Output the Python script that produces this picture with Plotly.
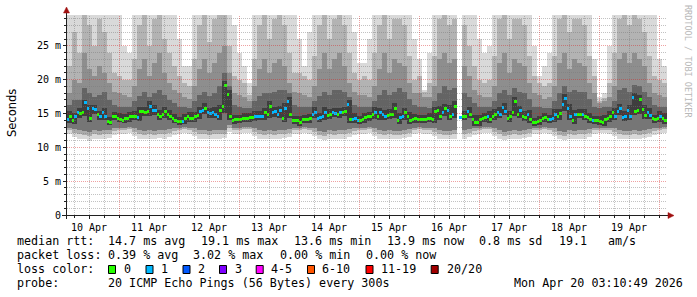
import plotly.graph_objects as go
from datetime import datetime, timedelta

# ---------------- data ----------------
first_step = datetime(2026, 4, 10, 3, 0, 0)      # start of first RRD step
view_start = datetime(2026, 4, 10, 3, 10, 49)
view_end = datetime(2026, 4, 20, 3, 10, 49)
median_step_hours = 1
smoke_step_hours = 2

# median round trip time (ms), one value per hour (None = no data)
median_ms = [
    14.1, 14.6, 13.9, 14.5, 15.1, 15.0, 15.2, 16.6, 15.8, 14.3, 15.7, 15.6, 14.8, 14.6, 15.2, 14.6, 13.8, 13.7, 14.6, 14.6, 14.3, 14.1, 14.0, 14.2,
    14.3, 14.5, 14.6, 14.6, 14.4, 15.3, 15.3, 15.2, 15.3, 16.1, 15.5, 15.4, 14.8, 14.5, 14.9, 15.3, 14.9, 14.5, 14.2, 14.0, 13.8, 13.8, 13.8, 14.2,
    14.5, 14.3, 14.2, 14.5, 14.7, 15.3, 15.5, 15.8, 15.1, 15.0, 15.2, 14.8, 14.6, 15.5, 16.0, 19.2, 17.8, 14.6, 14.0, 14.1, 14.1, 14.1, 14.2, 14.3,
    14.3, 14.4, 14.4, 14.6, 14.6, 14.6, 14.6, 15.1, 14.9, 16.1, 15.1, 15.3, 14.8, 15.4, 14.3, 15.8, 16.7, 14.9, 14.0, 13.9, 13.9, 13.6, 14.1, 14.1,
    14.1, 14.2, 14.8, 15.2, 14.2, 14.4, 14.6, 15.2, 14.7, 14.9, 15.1, 15.0, 14.8, 15.1, 15.2, 15.3, 16.3, 14.1, 14.1, 14.3, 13.9, 14.0, 14.1, 14.4,
    14.5, 14.5, 14.8, 15.2, 14.6, 15.1, 14.8, 14.5, 14.7, 14.9, 14.8, 15.8, 14.0, 14.4, 14.6, 15.1, 14.5, 14.0, 14.1, 14.2, 14.1, 14.1, 14.1, 14.1,
    14.3, 14.2, 14.1, 15.3, 15.4, 14.6, 15.1, 15.7, 15.5, 14.5, 14.8, 16.1, None, 14.4, 14.6, 14.6, 15.3, 14.8, 14.1, 13.7, 13.6, 14.1, 14.3, 14.4,
    14.6, 14.1, 14.6, 14.9, 15.2, 14.8, 15.9, 15.3, 14.3, 14.6, 15.1, 16.8, 14.8, 15.4, 14.6, 14.4, 14.8, 14.1, 13.6, 13.7, 13.8, 14.0, 14.2, 14.4,
    14.1, 14.1, 14.2, 14.9, 14.6, 15.0, 16.3, 17.2, 15.7, 14.6, 13.9, 14.8, 14.9, 14.9, 14.9, 14.6, 14.4, 14.1, 13.9, 13.9, 14.0, 13.8, 13.6, 14.1,
    14.3, 14.6, 15.1, 14.6, 15.3, 15.7, 14.4, 14.6, 15.5, 14.5, 17.4, 15.3, 15.4, 17.1, 15.6, 14.7, 15.1, 14.7, 14.3, 14.1, 14.3, 14.6, 14.3, 14.0,
]
# lost pings (out of 20) per hour
loss_count = [
    1, 0, 0, 1, 1, 0, 0, 1, 1, 0, 1, 1, 0, 1, 1, 1, 0, 0, 0, 0, 0, 0, 0, 0,
    0, 0, 0, 0, 1, 0, 0, 0, 0, 1, 1, 1, 0, 0, 0, 0, 0, 0, 0, 0, 0, 0, 1, 0,
    0, 0, 0, 0, 0, 1, 1, 0, 1, 1, 1, 1, 1, 0, 0, 0, 0, 0, 0, 0, 0, 0, 0, 0,
    0, 0, 0, 1, 1, 1, 1, 0, 0, 0, 1, 1, 1, 1, 0, 1, 1, 0, 0, 0, 0, 0, 0, 0,
    0, 0, 1, 1, 1, 1, 1, 1, 0, 0, 1, 1, 0, 1, 0, 0, 1, 0, 1, 1, 1, 0, 0, 0,
    0, 0, 0, 1, 0, 1, 1, 1, 0, 0, 0, 0, 0, 1, 1, 0, 0, 0, 0, 0, 0, 0, 0, 0,
    0, 0, 0, 0, 0, 0, 1, 0, 1, 0, 1, 0, 0, 1, 0, 0, 1, 0, 0, 0, 0, 0, 0, 0,
    1, 0, 0, 0, 1, 1, 1, 1, 0, 0, 0, 0, 0, 1, 0, 0, 1, 0, 0, 0, 0, 0, 0, 0,
    0, 1, 1, 1, 0, 0, 1, 1, 1, 1, 0, 1, 0, 0, 1, 0, 0, 0, 1, 0, 0, 0, 0, 0,
    0, 0, 0, 1, 1, 1, 1, 1, 1, 1, 1, 0, 0, 0, 0, 0, 1, 1, 0, 0, 0, 1, 0, 0,
]

# smoke: sorted ping values (ms) at a few ranks, one value per 2 hours (12 per day)
smoke_p01 = [
    11.9, 11.5, 11.3, 11.2, 11.0, 11.3, 11.2, 11.3, 11.4, 11.8, 12.0, 12.0,
    12.1, 11.6, 11.3, 11.2, 11.3, 11.2, 11.4, 11.3, 11.5, 11.8, 12.0, 12.1,
    12.0, 11.6, 11.3, 11.3, 11.2, 11.3, 11.3, 11.4, 12.3, 11.9, 12.0, 12.1,
    12.1, 11.7, 11.3, 11.2, 11.3, 11.2, 11.3, 11.4, 11.5, 11.9, 12.0, 12.1,
    12.0, 11.6, 11.2, 11.1, 11.3, 11.2, 11.3, 11.3, 11.5, 11.8, 12.0, 12.0,
    12.1, 11.6, 11.3, 11.2, 11.3, 11.2, 11.2, 11.4, 11.5, 11.9, 12.1, 12.0,
    12.0, 11.7, 11.3, 11.2, 11.2, 11.3, None, 11.3, 11.5, 11.8, 12.0, 12.1,
    12.1, 11.6, 11.3, 11.1, 11.2, 11.3, 11.2, 11.4, 11.5, 11.9, 12.0, 12.1,
    12.0, 11.6, 11.2, 11.1, 11.3, 11.2, 11.3, 11.3, 11.5, 11.9, 12.1, 12.1,
    12.0, 11.6, 11.3, 11.2, 11.2, 11.3, 11.2, 11.4, 11.5, 11.8, 12.0, 12.1,
]
smoke_p03 = [
    12.5, 12.1, 11.9, 11.8, 11.7, 11.9, 11.8, 11.9, 12.0, 12.4, 12.6, 12.6,
    12.7, 12.2, 11.9, 11.8, 11.9, 11.8, 12.0, 11.9, 12.1, 12.4, 12.6, 12.7,
    12.6, 12.2, 11.9, 11.9, 11.8, 11.9, 11.9, 12.0, 12.9, 12.5, 12.6, 12.7,
    12.7, 12.3, 11.9, 11.8, 11.9, 11.8, 11.9, 12.0, 12.1, 12.5, 12.6, 12.7,
    12.6, 12.2, 11.8, 11.7, 11.9, 11.8, 11.9, 11.9, 12.1, 12.4, 12.6, 12.6,
    12.7, 12.2, 11.9, 11.8, 11.9, 11.8, 11.8, 12.0, 12.1, 12.5, 12.7, 12.6,
    12.6, 12.3, 11.9, 11.8, 11.8, 11.9, None, 11.9, 12.1, 12.4, 12.6, 12.7,
    12.7, 12.2, 11.9, 11.7, 11.8, 11.9, 11.8, 12.0, 12.1, 12.5, 12.6, 12.7,
    12.6, 12.2, 11.8, 11.7, 11.9, 11.8, 11.9, 11.9, 12.1, 12.5, 12.7, 12.7,
    12.6, 12.2, 11.9, 11.8, 11.8, 11.9, 11.8, 12.0, 12.1, 12.4, 12.6, 12.7,
]
smoke_p06 = [
    12.9, 12.7, 12.5, 12.4, 12.3, 12.5, 12.4, 12.5, 12.6, 12.8, 12.9, 12.9,
    13.0, 12.8, 12.5, 12.4, 12.5, 12.4, 12.6, 12.5, 12.7, 12.8, 12.9, 13.0,
    12.9, 12.8, 12.5, 12.5, 12.4, 12.5, 12.5, 12.6, 13.3, 12.9, 12.9, 13.0,
    13.0, 12.8, 12.5, 12.4, 12.5, 12.4, 12.5, 12.6, 12.7, 12.8, 12.8, 13.0,
    12.9, 12.8, 12.4, 12.3, 12.5, 12.4, 12.5, 12.5, 12.7, 12.8, 12.9, 12.9,
    13.0, 12.8, 12.5, 12.4, 12.5, 12.4, 12.4, 12.6, 12.7, 12.9, 13.0, 12.9,
    12.9, 12.9, 12.5, 12.4, 12.4, 12.5, None, 12.5, 12.7, 12.8, 12.8, 13.0,
    13.0, 12.8, 12.5, 12.3, 12.4, 12.5, 12.4, 12.6, 12.7, 12.8, 12.9, 13.0,
    12.9, 12.8, 12.4, 12.3, 12.5, 12.4, 12.5, 12.5, 12.7, 12.9, 12.9, 12.8,
    12.9, 12.8, 12.5, 12.4, 12.4, 12.5, 12.4, 12.6, 12.7, 12.8, 12.9, 13.0,
]
smoke_p09 = [
    13.6, 13.5, 14.4, 14.6, 13.8, 14.9, 14.1, 14.0, 13.3, 14.0, 13.7, 13.6,
    13.8, 14.0, 13.9, 14.6, 14.7, 14.8, 14.0, 14.3, 14.0, 13.6, 13.3, 13.4,
    13.8, 13.7, 14.2, 14.9, 14.4, 14.3, 14.1, 15.0, 14.0, 13.5, 13.6, 13.7,
    13.8, 13.9, 14.0, 14.1, 14.3, 14.5, 14.3, 13.8, 14.3, 13.4, 13.1, 13.6,
    13.6, 14.3, 13.7, 14.1, 14.2, 14.5, 14.3, 14.6, 13.6, 13.6, 13.4, 13.6,
    13.9, 14.2, 14.1, 14.0, 14.2, 14.3, 13.5, 14.1, 13.5, 13.6, 13.6, 13.6,
    13.7, 13.6, 14.1, 14.6, 14.0, 14.3, None, 14.0, 14.3, 13.2, 13.1, 13.8,
    13.6, 14.1, 14.3, 14.8, 13.8, 14.6, 14.3, 13.9, 13.6, 13.1, 13.3, 13.7,
    13.6, 13.7, 14.1, 15.3, 14.1, 13.4, 14.4, 14.1, 13.6, 13.4, 13.3, 13.1,
    13.8, 14.1, 14.8, 13.9, 14.0, 14.8, 14.9, 14.2, 14.2, 13.6, 13.8, 13.5,
]
smoke_p12 = [
    15.3, 15.1, 15.8, 17.0, 16.3, 16.3, 15.4, 15.8, 14.5, 15.2, 15.0, 14.9,
    15.2, 15.3, 15.9, 16.0, 16.8, 16.2, 15.5, 16.0, 15.5, 14.9, 14.5, 14.9,
    15.2, 15.2, 16.0, 16.5, 15.8, 15.9, 16.2, 19.8, 18.4, 14.8, 14.8, 15.0,
    15.1, 15.3, 15.3, 15.8, 16.8, 16.0, 16.1, 16.5, 17.4, 14.7, 14.6, 14.8,
    14.9, 15.9, 15.1, 15.9, 15.6, 15.8, 15.8, 16.0, 17.0, 15.0, 14.7, 15.1,
    15.2, 15.9, 15.8, 15.5, 15.6, 16.5, 15.1, 15.8, 15.2, 14.9, 14.8, 14.8,
    15.0, 16.0, 16.1, 16.4, 16.2, 16.8, None, 15.3, 16.0, 14.8, 14.8, 15.1,
    15.3, 15.6, 15.9, 16.6, 15.3, 17.5, 16.1, 15.3, 15.5, 14.4, 14.7, 15.1,
    14.8, 15.6, 15.7, 17.9, 16.4, 15.5, 15.6, 15.6, 15.1, 14.6, 14.7, 14.8,
    15.3, 15.8, 16.4, 15.3, 16.2, 18.1, 17.8, 16.3, 15.8, 14.8, 15.3, 15.0,
]
smoke_p14 = [
    16.3, 17.0, 17.0, 18.8, 18.0, 17.5, 17.8, 18.2, 17.0, 16.3, 16.0, 16.0,
    15.9, 16.8, 17.6, 18.2, 17.5, 18.0, 18.5, 17.8, 17.0, 16.5, 16.0, 16.0,
    15.8, 16.8, 17.8, 18.2, 17.6, 18.0, 19.0, 21.0, 19.0, 16.2, 16.0, 15.8,
    15.8, 16.8, 17.6, 18.0, 18.0, 18.2, 18.5, 18.5, 18.0, 16.2, 16.0, 16.0,
    15.9, 16.8, 17.6, 18.2, 17.8, 18.5, 18.5, 18.2, 17.5, 16.3, 16.0, 16.0,
    16.0, 16.8, 17.8, 18.5, 17.8, 18.2, 18.8, 18.2, 17.2, 16.2, 16.0, 16.0,
    15.8, 16.8, 18.0, 19.0, 18.5, 18.8, None, 18.0, 17.5, 16.5, 16.0, 15.9,
    16.0, 16.8, 18.0, 18.5, 17.8, 18.8, 18.2, 18.0, 17.2, 16.0, 16.0, 15.8,
    15.8, 16.8, 18.0, 19.0, 18.2, 18.5, 18.2, 18.2, 17.2, 16.0, 15.8, 15.9,
    16.0, 16.8, 18.5, 18.8, 18.2, 19.2, 19.0, 18.2, 17.5, 16.3, 16.0, 16.0,
]
smoke_p16 = [
    18.0, 20.0, 19.5, 24.0, 21.5, 20.5, 22.0, 21.0, 19.5, 18.2, 18.0, 17.8,
    17.5, 19.0, 21.5, 23.0, 20.5, 22.5, 24.0, 21.0, 19.5, 18.5, 18.0, 17.5,
    17.2, 19.0, 21.5, 23.0, 21.0, 22.5, 24.0, 25.0, 21.0, 18.0, 17.8, 17.5,
    16.8, 19.0, 21.5, 23.0, 21.0, 22.5, 23.0, 22.0, 19.5, 18.2, 18.0, 17.8,
    17.5, 19.0, 21.5, 24.0, 21.5, 23.0, 24.0, 22.0, 19.5, 18.2, 17.8, 17.8,
    17.5, 19.0, 21.5, 24.0, 21.0, 23.0, 22.5, 22.0, 19.5, 18.0, 18.0, 17.5,
    17.5, 19.0, 23.0, 24.0, 22.5, 23.0, None, 22.0, 20.5, 18.5, 17.8, 17.5,
    17.5, 19.0, 22.5, 24.0, 21.0, 23.0, 22.5, 22.0, 19.5, 18.0, 17.8, 17.2,
    17.5, 19.0, 22.5, 24.0, 21.5, 23.0, 22.5, 22.0, 19.5, 18.0, 16.5, 16.8,
    17.5, 19.0, 23.0, 24.0, 22.5, 24.0, 23.0, 22.0, 19.5, 18.0, 17.8, 17.5,
]
smoke_p18 = [
    22.0, 27.0, 24.0, 30.0, 28.0, 25.0, 29.0, 27.0, 24.0, 21.0, 20.5, 20.0,
    20.0, 23.0, 28.0, 30.0, 25.0, 29.0, 30.0, 26.0, 24.0, 22.0, 20.5, 19.5,
    19.0, 23.0, 28.0, 30.0, 25.5, 29.0, 30.0, 30.0, 25.0, 20.5, 20.0, 19.5,
    17.8, 23.0, 28.0, 30.0, 26.0, 29.0, 30.0, 28.0, 24.0, 21.0, 21.0, 20.5,
    20.0, 23.5, 28.0, 30.0, 26.0, 29.0, 30.0, 28.0, 24.0, 21.0, 20.0, 20.5,
    20.0, 24.0, 28.0, 30.0, 26.0, 29.0, 29.0, 28.0, 23.5, 20.0, 20.5, 18.2,
    19.5, 23.5, 29.0, 30.0, 28.0, 29.0, None, 28.0, 25.0, 22.0, 20.0, 19.5,
    20.0, 23.5, 29.0, 30.0, 26.0, 29.0, 29.0, 28.0, 23.5, 20.5, 19.5, 19.0,
    19.5, 23.5, 29.0, 30.0, 27.0, 29.0, 29.0, 28.0, 23.5, 20.5, 16.9, 17.3,
    19.5, 24.0, 29.0, 30.0, 28.0, 30.0, 29.0, 27.0, 23.5, 20.5, 20.0, 19.5,
]
smoke_p20 = [
    30.0, 30.0, 30.0, 30.0, 30.0, 30.0, 30.0, 30.0, 30.0, 30.0, 30.0, 25.0,
    24.0, 30.0, 30.0, 30.0, 30.0, 30.0, 30.0, 30.0, 30.0, 30.0, 26.0, 22.0,
    22.0, 30.0, 30.0, 30.0, 30.0, 30.0, 30.0, 30.0, 30.0, 28.0, 24.0, 22.0,
    19.5, 30.0, 30.0, 30.0, 30.0, 30.0, 30.0, 30.0, 30.0, 30.0, 26.0, 22.0,
    27.0, 30.0, 30.0, 30.0, 30.0, 30.0, 30.0, 30.0, 30.0, 27.0, 22.5, 22.5,
    26.0, 30.0, 30.0, 30.0, 30.0, 30.0, 30.0, 30.0, 30.0, 26.0, 23.0, 18.5,
    24.0, 30.0, 30.0, 30.0, 30.0, 30.0, None, 30.0, 30.0, 30.0, 26.0, 24.0,
    25.0, 30.0, 30.0, 30.0, 30.0, 30.0, 30.0, 30.0, 30.0, 25.0, 20.5, 22.0,
    24.0, 30.0, 30.0, 30.0, 30.0, 30.0, 30.0, 30.0, 30.0, 23.0, 17.5, 18.0,
    25.0, 30.0, 30.0, 30.0, 30.0, 30.0, 30.0, 30.0, 30.0, 30.0, 23.0, 22.0,
]

day_labels = ["10 Apr", "11 Apr", "12 Apr", "13 Apr", "14 Apr", "15 Apr", "16 Apr", "17 Apr", "18 Apr", "19 Apr"]
y_tick_vals = [0, 5, 10, 15, 20, 25]
y_tick_text = ["0", "5 m", "10 m", "15 m", "20 m", "25 m"]
y_max = 29.55

loss_labels = ["0", "1", "2", "3", "4-5", "6-10", "11-19", "20/20"]
loss_colors = ["#26ff00", "#00b8ff", "#0059ff", "#7e00ff", "#ff00ff", "#ff5500", "#ff0000", "#a10000"]
loss_upper = [0, 1, 2, 3, 5, 10, 19, 20]

rtt_items = ["14.7 ms avg", "19.1 ms max", "13.6 ms min", "13.9 ms now", "0.8 ms sd", "19.1", "am/s"]
loss_items = ["0.39 % avg", "3.02 % max", "0.00 % min", "0.00 % now"]
probe_text = "20 ICMP Echo Pings (56 Bytes) every 300s"
stamp_text = "Mon Apr 20 03:10:49 2026"

# ---------------- geometry helpers (layout only) ----------------
PL, PT, PW, PH = 67, 15, 600, 200
span = (view_end - view_start).total_seconds()
MEDIAN_THICK = 0.44   # ms, ~3 px tall median marks


def X(px):
    return (px - PL) / PW


def Y(py):
    return (PT + PH - py) / PH


fig = go.Figure()

# ---------------- smoke ----------------
smoke_x = [first_step + timedelta(hours=smoke_step_hours * i + smoke_step_hours / 2) for i in range(len(smoke_p20))]
bands = [
    (smoke_p01, smoke_p03, "#d8d8d8"),
    (smoke_p03, smoke_p06, "#ababab"),
    (smoke_p06, smoke_p09, "#767676"),
    (smoke_p09, smoke_p12, "#3e3e3e"),
    (smoke_p12, smoke_p14, "#646464"),
    (smoke_p14, smoke_p16, "#8e8e8e"),
    (smoke_p16, smoke_p18, "#b3b3b3"),
    (smoke_p18, smoke_p20, "#d9d9d9"),
]
for lo, hi, col in bands:
    base = [a if (a is not None and b is not None) else None for a, b in zip(lo, hi)]
    hgt = [max(0.0, b - a) if (a is not None and b is not None) else None for a, b in zip(lo, hi)]
    fig.add_trace(go.Bar(
        x=smoke_x, y=hgt, base=base, width=smoke_step_hours * 3600 * 1000,
        marker=dict(color=col, line=dict(width=0)), hoverinfo="skip",
    ))

# ---------------- median, coloured by loss ----------------
def loss_class(n):
    for k, up in enumerate(loss_upper):
        if n <= up:
            return k
    return len(loss_upper) - 1


median_x = [first_step + timedelta(hours=median_step_hours * i + median_step_hours / 2) for i in range(len(median_ms))]
for k, col in enumerate(loss_colors):
    xs, bs, hs = [], [], []
    for t, v, n in zip(median_x, median_ms, loss_count):
        if v is None or loss_class(n) != k:
            continue
        xs.append(t)
        bs.append(v - MEDIAN_THICK / 2)
        hs.append(MEDIAN_THICK)
    if xs:
        fig.add_trace(go.Bar(x=xs, y=hs, base=bs, width=median_step_hours * 3600 * 1000,
                             marker=dict(color=col, line=dict(width=0)), hoverinfo="skip"))

# ---------------- grid (drawn over the graph, like rrdtool) ----------------
shapes = []
grid_minor = "rgba(120,120,120,0.45)"
grid_major = "rgba(215,30,30,0.42)"
for v in range(1, 30):
    py = PT + PH - v * PH / y_max
    py = int(py) + 0.5
    shapes.append(dict(type="line", xref="paper", yref="paper", x0=0, x1=1, y0=Y(py), y1=Y(py),
                       line=dict(color=grid_major if v % 5 == 0 else grid_minor, width=1, dash="1px,1px"),
                       layer="above"))
t = datetime(2026, 4, 10, 6, 0, 0)
while t < view_end:
    px = PL + PW * (t - view_start).total_seconds() / span
    px = int(px) + 0.5
    shapes.append(dict(type="line", xref="paper", yref="paper", x0=X(px), x1=X(px), y0=0, y1=1,
                       line=dict(color=grid_major if t.hour == 0 else grid_minor, width=1, dash="1px,1px"),
                       layer="above"))
    t += timedelta(hours=6)

# axes lines and arrows
axis_col = "#202020"
arrow_col = "#a01010"
shapes.append(dict(type="line", xref="paper", yref="paper", x0=X(62), x1=X(670), y0=Y(215.5), y1=Y(215.5),
                   line=dict(color=axis_col, width=1), layer="above"))
shapes.append(dict(type="line", xref="paper", yref="paper", x0=X(66.5), x1=X(66.5), y0=Y(219), y1=Y(11),
                   line=dict(color=axis_col, width=1), layer="above"))
shapes.append(dict(type="path", xref="paper", yref="paper",
                   path=f"M {X(668)},{Y(212.5)} L {X(674)},{Y(215.5)} L {X(668)},{Y(218.5)} Z",
                   fillcolor=arrow_col, line=dict(color=arrow_col, width=0.5), layer="above"))
shapes.append(dict(type="path", xref="paper", yref="paper",
                   path=f"M {X(63.5)},{Y(13)} L {X(66.5)},{Y(7)} L {X(69.5)},{Y(13)} Z",
                   fillcolor=arrow_col, line=dict(color=arrow_col, width=0.5), layer="above"))

# ---------------- text ----------------
MONO = "DejaVu Sans Mono"
LEG = 11.7
ann = []


def text(s, px, py, size=LEG, family=MONO, color="#000000", anchor="left", angle=0):
    ann.append(dict(text=s, x=X(px), y=Y(py), xref="paper", yref="paper", xanchor=anchor, yanchor="middle",
                    showarrow=False, borderpad=0, textangle=angle,
                    font=dict(family=family, size=size, color=color)))


row_y = [241.3, 255.3, 269.3, 283.0]
text("median rtt:", 15.5, row_y[0])
for s, px in zip(rtt_items, [106.8, 200.2, 292.8, 385.5, 477.8, 557.8, 606.8]):
    text(s, px, row_y[0])
text("packet loss:", 15.5, row_y[1])
for s, px in zip(loss_items, [106.8, 192.2, 278.8, 364.5]):
    text(s, px, row_y[1])
text("loss color:", 15.5, row_y[2])
box_x = [108.5, 146.0, 183.0, 219.5, 256.2, 307.5, 366.0, 431.2]
lab_x = [122.8, 159.5, 196.8, 233.5, 270.2, 321.2, 380.2, 445.5]
for lab, col, bx, lx in zip(loss_labels, loss_colors, box_x, lab_x):
    shapes.append(dict(type="rect", xref="paper", yref="paper", x0=X(bx), x1=X(bx + 7), y0=Y(265.5), y1=Y(273.5),
                       fillcolor=col, line=dict(color="#000000", width=1), layer="above"))
    text(lab, lx, row_y[2])
text("probe:", 15.5, row_y[3])
text(probe_text, 106.8, row_y[3])
text(stamp_text, 512.8, row_y[3])

text("Seconds", 11.5, 113.5, size=11.5, family="DejaVu Sans", anchor="center", angle=-90)
text("RRDTOOL / TOBI OETIKER", 688, 61, size=8.5, family=MONO, color="#b8b8b8", anchor="center", angle=90)

# ---------------- layout ----------------
noon_ticks = [datetime(2026, 4, 10 + d, 12, 0, 0) for d in range(len(day_labels))]
fig.update_layout(
    width=697, height=297,
    margin=dict(l=PL, r=697 - PL - PW, t=PT, b=297 - PT - PH),
    paper_bgcolor="#ffffff", plot_bgcolor="#ffffff",
    showlegend=False, barmode="overlay", bargap=0,
    shapes=shapes, annotations=ann,
    xaxis=dict(type="date", range=[view_start, view_end], showgrid=False, zeroline=False, showline=False,
               tickmode="array", tickvals=noon_ticks, ticktext=day_labels,
               ticks="outside", ticklen=3, tickcolor="#202020", tickwidth=1,
               tickfont=dict(family=MONO, size=10, color="#000000"),
               minor=dict(ticks="outside", ticklen=2, tickcolor="#202020", dtick=6 * 3600 * 1000,
                          tick0="2026-04-10 00:00:00", showgrid=False),
               fixedrange=True),
    yaxis=dict(range=[0, y_max], showgrid=False, zeroline=False, showline=False,
               tickmode="array", tickvals=y_tick_vals, ticktext=y_tick_text,
               ticks="outside", ticklen=3, tickcolor="#202020", tickwidth=1,
               tickfont=dict(family=MONO, size=10, color="#000000"),
               minor=dict(ticks="outside", ticklen=2, tickcolor="#202020", dtick=1, showgrid=False),
               fixedrange=True),
)

fig.write_html("out.html")
